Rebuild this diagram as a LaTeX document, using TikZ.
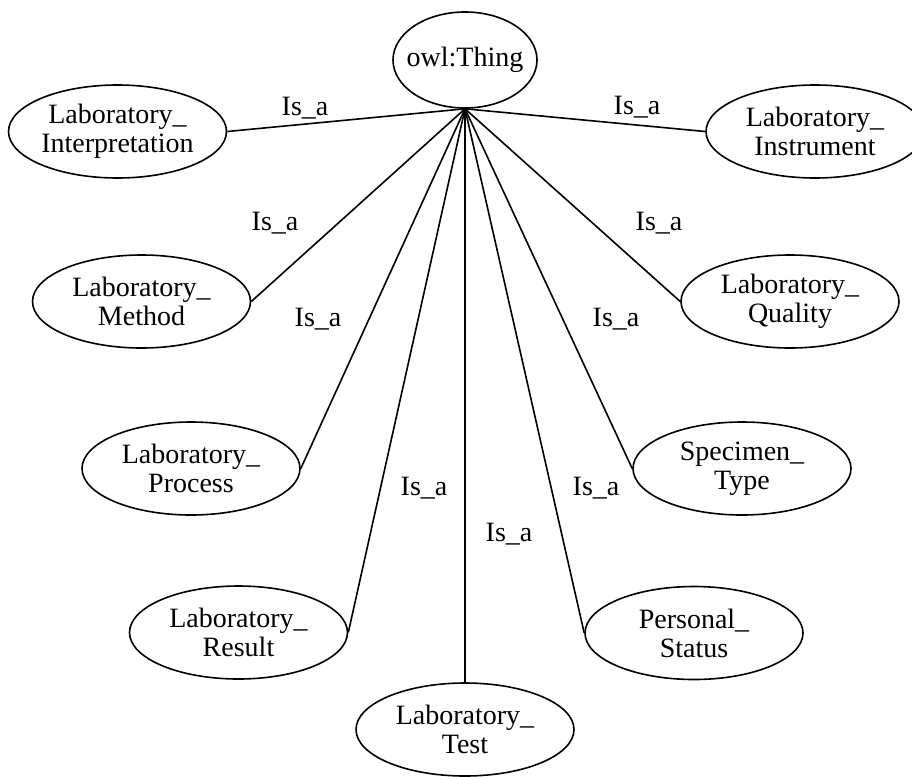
\documentclass[tikz,border=0pt]{standalone}
\usepackage{fontspec}
\setmainfont{Liberation Serif}
\usetikzlibrary{shapes.geometric}
\begin{document}
\begin{tikzpicture}[x=1pt,y=-1pt,
  concept/.style={ellipse, draw, line width=1.6pt, inner sep=0pt,
    minimum width=218pt, minimum height=93pt, align=center,
    font=\fontsize{28}{29}\selectfont},
  isa/.style={font=\fontsize{28}{28}\selectfont, anchor=base, inner sep=0pt},
  link/.style={line width=1.6pt}]
\useasboundingbox (0,0) rectangle (912,776);

% root class
\node[concept, minimum width=144pt, minimum height=96pt] (thing) at (465,60)
  {\makebox[0pt]{owl:Thing}};

% subclasses
\node[concept] (interp)   at (117.5,131.5) {Laboratory\_\\Interpretation};
\node[concept] (instr)    at (815,131.5)   {Laboratory\_\\Instrument};
\node[concept] (method)   at (141.5,301.5) {Laboratory\_\\Method};
\node[concept] (quality)  at (790,301.5)   {Laboratory\_\\Quality};
\node[concept] (process)  at (191,468.5)   {Laboratory\_\\Process};
\node[concept] (specimen) at (742,468.5)   {Specimen\_\\Type};
\node[concept] (result)   at (238.5,632.5) {Laboratory\_\\Result};
\node[concept] (personal) at (694,633)     {Personal\_\\Status};
\node[concept] (test)     at (465,729.5)   {Laboratory\_\\Test};

% is-a links
\draw[link] (thing.south) -- (interp.east);
\draw[link] (thing.south) -- (instr.west);
\draw[link] (thing.south) -- (method.east);
\draw[link] (thing.south) -- (quality.west);
\draw[link] (thing.south) -- (process.east);
\draw[link] (thing.south) -- (specimen.west);
\draw[link] (thing.south) -- (result.east);
\draw[link] (thing.south) -- (personal.west);
\draw[link] (thing.south) -- (test.north);

% link labels
\node[isa] (l-interp)   at (305,115) {Is\_a};
\node[isa] (l-instr)    at (637,114) {Is\_a};
\node[isa] (l-method)   at (275,230) {Is\_a};
\node[isa] (l-quality)  at (659,230) {Is\_a};
\node[isa] (l-process)  at (318,326) {Is\_a};
\node[isa] (l-specimen) at (616,326) {Is\_a};
\node[isa] (l-result)   at (424,495) {Is\_a};
\node[isa] (l-personal) at (596,495) {Is\_a};
\node[isa] (l-test)     at (509,541) {Is\_a};
\end{tikzpicture}
\end{document}
